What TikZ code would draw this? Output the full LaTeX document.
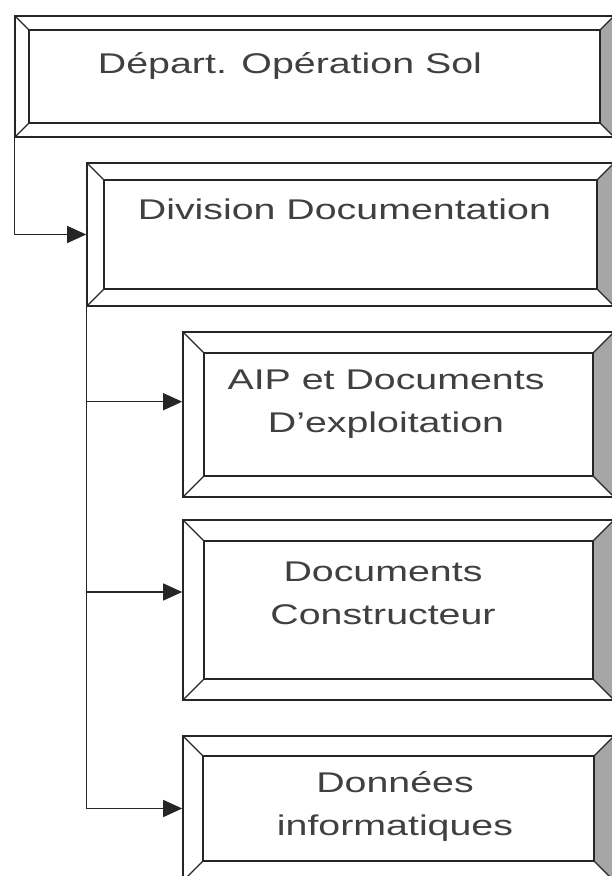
\documentclass[tikz,border=0pt]{standalone}
\usepackage{fontspec}
\setmainfont{Liberation Sans}[FakeStretch=1.38]
\usepackage{tikz}
\usetikzlibrary{arrows.meta}
\tikzstyle{bevelbox}[14]=[rectangle, draw=black!85, line width=1.6pt, fill=white, path picture={
    \fill[black!35] ([shift={(-#1,-#1)}]path picture bounding box.north east) -- (path picture bounding box.north east) -- (path picture bounding box.south east) -- ([shift={(-#1,#1)}]path picture bounding box.south east) -- cycle;
    \draw[line width=1.6pt, black!85] ([shift={(#1,-#1)}]path picture bounding box.north west) rectangle ([shift={(-#1,#1)}]path picture bounding box.south east);
    \draw[line width=1.2pt, black!85] (path picture bounding box.north west) -- ++(#1,-#1) (path picture bounding box.south west) -- ++(#1,#1) (path picture bounding box.north east) -- ++(-#1,-#1) (path picture bounding box.south east) -- ++(-#1,#1);
  }]
\tikzstyle{lab} = [text=black!75, align=center, inner sep=0pt, font=\fontsize{28.5pt}{43pt}\selectfont]
\tikzstyle{arrow} = [line width=1.3pt, draw=black!85, -{Triangle[length=19pt, width=17pt]}]

\begin{document}
\begin{tikzpicture}[x=1pt, y=1pt, node distance=180pt]
\useasboundingbox (0,0) rectangle (612,876);
% Department
\node (dep) [bevelbox=14, minimum width=599pt, minimum height=121pt] at (314.5,799.5) {};
\node (depL) [lab, anchor=base, xshift=-24.5pt, yshift=3.3pt] at (dep) {Départ. Opération Sol};

% Division
\node (div) [bevelbox=17, minimum width=527pt, minimum height=143pt, below of=dep, xshift=36pt, yshift=22pt] {};
\node (divL) [lab, anchor=base, xshift=-6pt, yshift=15.2pt] at (div) {Division Documentation};
\draw [arrow] (dep.south west) |- (div.west);

% Services of the division
\node (aip) [bevelbox=21, minimum width=431pt, minimum height=165pt, below of=div, xshift=48pt] {};
\node (aipL) [lab, xshift=-12.5pt, yshift=10.4pt] at (aip) {AIP et Documents\\D’exploitation};
\node (cons) [bevelbox=21, minimum width=431pt, minimum height=180pt, below of=aip, yshift=-15.5pt] {};
\node (consL) [lab, xshift=-15.5pt, yshift=16.7pt] at (cons) {Documents\\Constructeur};
\node (don) [bevelbox=20, minimum width=431pt, minimum height=145pt, below of=cons, yshift=-18.5pt] {};
\node (donL) [lab, xshift=-3.5pt, yshift=2.2pt] at (don) {Données\\informatiques};

% Branches from the division
\draw [arrow] (div.south west) |- ([yshift=12.8pt]aip.west);
\draw [arrow] (div.south west) |- ([yshift=18pt]cons.west);
\draw [arrow] (div.south west) |- (don.west);
\end{tikzpicture}
\end{document}
